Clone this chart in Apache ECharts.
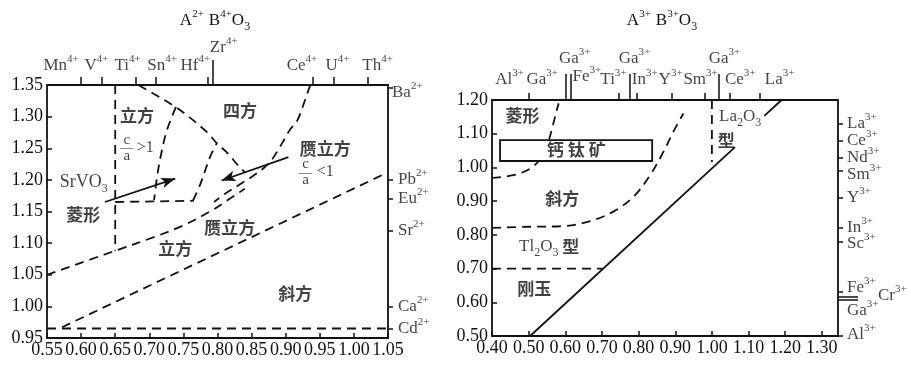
<!DOCTYPE html>
<html><head><meta charset="utf-8">
<script src="https://cdn.jsdelivr.net/npm/echarts@6/dist/echarts.min.js"></script>
<style>html,body{margin:0;padding:0;background:#fff}#c{width:911px;height:366px}</style>
</head><body><div id="c"></div>
<script>
// ================= DATA =================
// ---- Left diagram: A2+ B4+ O3  (x = r(B4+), y = r(A2+)) ----
const L_xRange = [0.55, 1.05];
const L_yRange = [0.95, 1.35];
const L_topIons  = ['Mn', 'V', 'Ti', 'Sn', 'Hf', 'Zr', 'Ce', 'U', 'Th'];
const L_topRadii = [0.60, 0.63, 0.68, 0.71, 0.785, 0.793, 0.94, 0.97, 1.02];
const L_topTall  = [0, 0, 0, 0, 0, 1, 0, 0, 0];
const L_rightIons  = ['Ba', 'Pb', 'Eu', 'Sr', 'Ca', 'Cd'];
const L_rightRadii = [1.345, 1.20, 1.17, 1.12, 1.00, 0.965];
const L_vertical = [[0.65, 1.35], [0.65, 1.088]];
const L_lineA = [[0.55, 1.05], [0.65, 1.088], [0.708, 1.110], [0.75, 1.128], [0.789, 1.150], [0.815, 1.168], [0.84, 1.186]];
const L_lineB = [[0.572, 0.967], [1.05, 1.212]];
const L_lineCd = [[0.55, 0.965], [1.05, 0.965]];
const L_curveC = [[0.684, 1.35], [0.705, 1.337], [0.736, 1.317], [0.760, 1.298], [0.785, 1.275], [0.799, 1.258], [0.815, 1.242], [0.830, 1.223], [0.840, 1.212]];
const L_curveD = [[0.739, 1.315], [0.726, 1.279], [0.717, 1.239], [0.711, 1.202], [0.707, 1.168]];
const L_lineG = [[0.65, 1.165], [0.765, 1.167]];
const L_curveE = [[0.764, 1.167], [0.774, 1.191], [0.782, 1.215], [0.789, 1.236], [0.799, 1.258]];
const L_curveF = [[0.936, 1.35], [0.924, 1.313], [0.917, 1.294], [0.906, 1.279], [0.899, 1.266], [0.887, 1.244], [0.877, 1.228], [0.867, 1.218], [0.852, 1.206], [0.833, 1.193], [0.811, 1.178], [0.795, 1.165]];
const L_arrows = [[[0.635, 1.165], [0.738, 1.202]], [[0.904, 1.236], [0.806, 1.199]]];

// ---- Right diagram: A3+ B3+ O3 ----
const R_xRange = [0.40, 1.344];
const R_yRange = [0.50, 1.20];
const R_topIons  = ['Al', 'Ga', 'Fe', 'Ti', 'In', 'Y', 'Sm', 'Ce', 'La', 'Ga', 'Ga', 'Ga'];
const R_topRadii = [0.50, 0.60, 0.615, 0.745, 0.795, 0.89, 0.98, 1.05, 1.13, 0.615, 0.775, 1.018];
const R_topTall  = [0, 1, 1, 0, 0, 0, 0, 0, 0, 1, 1, 1];
const R_rightIons  = ['La', 'Ce', 'Nd', 'Sm', 'Y', 'In', 'Sc', 'Fe', 'Cr', 'Ga', 'Al'];
const R_rightRadii = [1.13, 1.08, 1.03, 0.99, 0.91, 0.82, 0.78, 0.63, 0.615, 0.609, 0.50];
const R_rightLong  = [0, 0, 0, 0, 0, 0, 0, 0, 1, 1, 0];
const R_rhombBoundary = [[0.40, 0.969], [0.458, 0.977], [0.505, 0.997], [0.535, 1.03], [0.552, 1.07], [0.564, 1.116], [0.578, 1.175], [0.582, 1.19]];
const R_orthoBoundary = [[0.40, 0.821], [0.505, 0.824], [0.595, 0.826], [0.668, 0.841], [0.731, 0.869], [0.786, 0.913], [0.832, 0.978], [0.868, 1.047], [0.895, 1.106], [0.922, 1.16]];
const R_corundum = [[0.40, 0.70], [0.70, 0.70]];
const R_La2O3 = [[1.00, 1.20], [1.00, 1.016]];
const R_limit1 = [[0.504, 0.50], [1.063, 1.06]];
const R_limit2 = [[1.143, 1.153], [1.19, 1.20]];
const R_box = [[0.422, 1.019], [0.837, 1.081]];

// ================= LAYOUT / STYLE =================
const SERIF = '"Liberation Serif", "Times New Roman", serif';
const CJK = '"Noto Sans CJK SC", sans-serif';
const INK = '#111';
const rich = {
  b: {fontFamily: SERIF, fontSize: 17, lineHeight: 24, color: INK, fontWeight: 'normal'},
  B: {fontFamily: SERIF, fontSize: 18, lineHeight: 24, color: INK, fontWeight: 'normal'},
  s: {fontFamily: SERIF, fontSize: 11, verticalAlign: 'top', color: INK, fontWeight: 'normal'},
  u: {fontFamily: SERIF, fontSize: 12, verticalAlign: 'bottom', color: INK, fontWeight: 'normal'},
  c: {fontFamily: CJK, fontSize: 17, fontWeight: 'bold', lineHeight: 24, color: INK},
  k: {fontFamily: CJK, fontSize: 17, fontWeight: 'bold', lineHeight: 24, color: INK, padding: [0, 2, 0, 2]},
  n: {fontFamily: SERIF, fontSize: 15, lineHeight: 13, color: INK, align: 'center', fontWeight: 'normal'},
  bar: {fontFamily: SERIF, fontSize: 13, lineHeight: 3, color: INK, align: 'center', fontWeight: 'normal'},
  g: {fontFamily: SERIF, fontSize: 16, lineHeight: 20, color: INK, fontWeight: 'normal'}
};
const ion = (n, q) => `{b|${n}}{s|${q}}`;

const L_topDx = [-20, -5, -8, 6, -12, 11, -11, 4, 10];
const R_topDx = [-19, -23, 16, -5, 8, -1, -4, 10, 20, 4, 5, 6];
const R_topDy = [-20, -20, -23, -20, -20, -20, -20, -20, -20, -41, -41, -41];
const L_rightDy = [4, 0, 0, 0, 0, 0];
const L_rightDist = [4, 10, 10, 10, 10, 10];
const R_rightDy = [0, 0, 0, 4, 0, -1, 2, -5, -2, 11, -1];
const R_rightDist = [9, 9, 9, 9, 9, 9, 9, 9, 40, 9, 9];

const L_regions = [
  {p: [0.682, 1.301], t: '{c|立方}'},
  {p: [0.667, 1.251], t: '{n|c}\n{bar|—}\n{n|a}'},
  {p: [0.694, 1.250], t: '{g|>1}'},
  {p: [0.833, 1.310], t: '{c|四方}'},
  {p: [0.958, 1.250], t: '{c|赝立方}'},
  {p: [0.929, 1.212], t: '{n|c}\n{bar|—}\n{n|a}'},
  {p: [0.958, 1.212], t: '{g|<1}'},
  {p: [0.604, 1.196], t: '{B|SrVO}{u|3}'},
  {p: [0.603, 1.145], t: '{c|菱形}'},
  {p: [0.818, 1.124], t: '{c|赝立方}'},
  {p: [0.738, 1.091], t: '{c|立方}'},
  {p: [0.914, 1.021], t: '{c|斜方}'}
];
const R_regions = [
  {p: [0.483, 1.155], t: '{c|菱形}'},
  {p: [0.630, 1.053], t: '{k|钙}{k|钛}{k|矿}'},
  {p: [0.592, 0.909], t: '{c|斜方}'},
  {p: [0.556, 0.764], t: '{b|Tl}{u|2}{b|O}{u|3}{c| 型}'},
  {p: [0.515, 0.642], t: '{c|刚玉}'},
  {p: [1.077, 1.150], t: '{b|La}{u|2}{b|O}{u|3}'},
  {p: [1.039, 1.081], t: '{c|型}'}
];

// ================= BUILD =================
const chart = echarts.init(document.getElementById('c'), null, {renderer: 'canvas'});
const lineW = 1.8;
const axisLine = {show: true, lineStyle: {color: INK, width: 1.8}};
const tickLabel = {fontFamily: SERIF, fontSize: 18, color: INK};

function mainX(gi, range, interval, hideMax) {
  return {gridIndex: gi, type: 'value', position: 'bottom', min: range[0], max: range[1], interval,
    axisLine, splitLine: {show: false},
    axisTick: {show: true, inside: true, length: 5, lineStyle: {color: INK, width: 1.5}},
    axisLabel: Object.assign({margin: 3, showMaxLabel: !hideMax, showMinLabel: true,
      formatter: v => v.toFixed(2)}, tickLabel)};
}
function mainY(gi, range, interval) {
  return {gridIndex: gi, type: 'value', position: 'left', min: range[0], max: range[1], interval,
    axisLine, splitLine: {show: false},
    axisTick: {show: true, inside: true, length: 5, lineStyle: {color: INK, width: 1.5}},
    axisLabel: Object.assign({margin: 4, formatter: v => v.toFixed(2)}, tickLabel)};
}
function tickAxisX(gi, range, values, len, showLine) {
  return {gridIndex: gi, type: 'value', position: 'top', min: range[0], max: range[1],
    axisLine: showLine ? axisLine : {show: false}, splitLine: {show: false},
    axisTick: {show: true, inside: false, length: len, customValues: values, lineStyle: {color: INK, width: 1.5}},
    axisLabel: {show: false}};
}
function tickAxisY(gi, range, values, len, showLine) {
  return {gridIndex: gi, type: 'value', position: 'right', min: range[0], max: range[1],
    axisLine: showLine ? axisLine : {show: false}, splitLine: {show: false},
    axisTick: {show: true, inside: false, length: len, customValues: values, lineStyle: {color: INK, width: 1.5}},
    axisLabel: {show: false}};
}
const pick = (arr, flags, want) => arr.filter((v, i) => !!flags[i] === want);

const xAxis = [
  mainX(0, L_xRange, 0.05, false),
  tickAxisX(0, L_xRange, pick(L_topRadii, L_topTall, false), 8, true),
  tickAxisX(0, L_xRange, pick(L_topRadii, L_topTall, true), 25, false),
  mainX(1, R_xRange, 0.1, true),
  tickAxisX(1, R_xRange, pick(R_topRadii, R_topTall, false), 7, true),
  tickAxisX(1, R_xRange, pick(R_topRadii, R_topTall, true), 26, false)
];
const yAxis = [
  mainY(0, L_yRange, 0.05),
  tickAxisY(0, L_yRange, L_rightRadii, 5, true),
  mainY(1, R_yRange, 0.1),
  tickAxisY(1, R_yRange, pick(R_rightRadii, R_rightLong, false), 5, true),
  tickAxisY(1, R_yRange, pick(R_rightRadii, R_rightLong, true), 20, false)
];

function curve(xi, yi, data, dashed, smooth) {
  return {type: 'line', xAxisIndex: xi, yAxisIndex: yi, data, showSymbol: false, symbol: 'none',
    smooth: smooth ? 0.35 : false, silent: true, z: 3, clip: false,
    lineStyle: {color: INK, width: lineW, type: dashed ? [9, 6] : 'solid', cap: 'butt'}};
}
function labels(xi, yi, items) {
  return {type: 'scatter', xAxisIndex: xi, yAxisIndex: yi, symbolSize: 0.01, silent: true, clip: false, z: 20,
    itemStyle: {color: 'rgba(0,0,0,0)'},
    data: items.map(it => ({value: it.p, label: Object.assign({show: true, color: INK, rich,
      formatter: it.t}, it.l || {position: 'inside'})}))};
}

const L_topLabelItems = L_topIons.map((n, i) => ({p: [L_topRadii[i], L_yRange[1]], t: ion(n, '4+'),
  l: {position: 'inside', offset: [L_topDx[i], L_topTall[i] ? -37 : -19]}}));
const L_rightLabelItems = L_rightIons.map((n, i) => ({p: [L_xRange[1], L_rightRadii[i]], t: ion(n, '2+'),
  l: {position: 'right', distance: L_rightDist[i], offset: [0, L_rightDy[i]]}}));
const R_topLabelItems = R_topIons.map((n, i) => ({p: [R_topRadii[i], R_yRange[1]], t: ion(n, '3+'),
  l: {position: 'inside', offset: [R_topDx[i], R_topDy[i]]}}));
const R_rightLabelItems = R_rightIons.map((n, i) => ({p: [R_xRange[1], R_rightRadii[i]], t: ion(n, '3+'),
  l: {position: 'right', distance: R_rightDist[i], offset: [0, R_rightDy[i]]}}));

const series = [
  curve(0, 0, L_vertical, true), curve(0, 0, L_lineA, true, true), curve(0, 0, L_lineB, true),
  curve(0, 0, L_lineCd, true), curve(0, 0, L_curveC, true, true), curve(0, 0, L_curveD, true, true),
  curve(0, 0, L_lineG, true), curve(0, 0, L_curveE, true, true), curve(0, 0, L_curveF, true, true),
  {type: 'line', xAxisIndex: 0, yAxisIndex: 0, data: [], silent: true, z: 4,
    markLine: {silent: true, symbol: ['none', 'arrow'], symbolSize: [8, 14], label: {show: false},
      lineStyle: {color: INK, width: 1.8, type: 'solid'},
      data: L_arrows.map(a => [{coord: a[0]}, {coord: a[1]}])}},
  curve(3, 2, R_rhombBoundary, true, true), curve(3, 2, R_orthoBoundary, true, true),
  curve(3, 2, R_corundum, true), curve(3, 2, R_La2O3, true),
  curve(3, 2, R_limit1, false), curve(3, 2, R_limit2, false),
  {type: 'line', xAxisIndex: 3, yAxisIndex: 2, data: [], silent: true, z: 10,
    markArea: {silent: true, z: 10, itemStyle: {color: '#fff', borderColor: INK, borderWidth: 1.8},
      label: {show: false}, data: [[{coord: R_box[0]}, {coord: R_box[1]}]]}},
  labels(0, 0, L_regions), labels(0, 0, L_topLabelItems), labels(0, 0, L_rightLabelItems),
  labels(3, 2, R_regions), labels(3, 2, R_topLabelItems), labels(3, 2, R_rightLabelItems)
];

chart.setOption({
  animation: false,
  backgroundColor: '#fff',
  title: [
    {text: '{b|A}{s|2+} {b|B}{s|4+}{b|O}{u|3}', left: 210, top: 4, textAlign: 'center',
      textStyle: {rich, fontWeight: 'normal'}},
    {text: '{b|A}{s|3+} {b|B}{s|3+}{b|O}{u|3}', left: 657, top: 4, textAlign: 'center',
      textStyle: {rich, fontWeight: 'normal'}}
  ],
  grid: [
    {left: 47, top: 85, width: 341, height: 253},
    {left: 492, top: 100, width: 346, height: 236}
  ],
  xAxis, yAxis, series
});
</script></body></html>
